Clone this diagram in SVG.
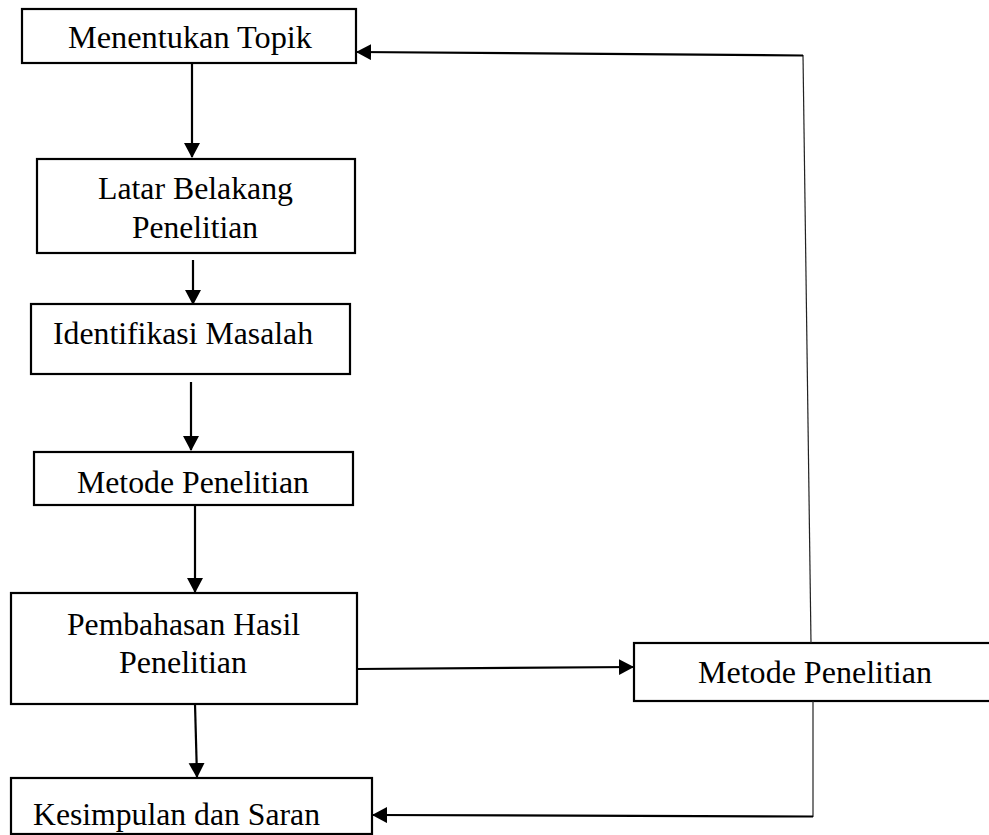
<svg xmlns="http://www.w3.org/2000/svg" width="989" height="835" viewBox="0 0 989 835">
<style>
.box{fill:#fff;stroke:#000;stroke-width:2.2}
text{font-family:'Liberation Serif','DejaVu Serif',serif;font-size:31px;fill:#000}
.conn{fill:none;stroke:#000;stroke-width:2.2}
.thin{fill:none;stroke:#222;stroke-width:1.2}
</style>
<defs>
<marker id="ah" markerUnits="userSpaceOnUse" markerWidth="15" markerHeight="17" refX="14" refY="8" orient="auto">
<path d="M0,0 L15,8 L0,16 Z" fill="#000"/>
</marker>
</defs>
<rect width="989" height="835" fill="#fff"/>
<g id="n1"><rect class="box" x="22" y="9" width="334" height="54"/><text x="68" y="48" font-family="Liberation Serif, serif" textLength="244" lengthAdjust="spacingAndGlyphs">Menentukan Topik</text></g>
<g id="n2"><rect class="box" x="37" y="159" width="318" height="94"/><text x="98" y="199" font-family="Liberation Serif, serif" textLength="195" lengthAdjust="spacingAndGlyphs">Latar Belakang</text><text x="132" y="238" font-family="Liberation Serif, serif" textLength="126" lengthAdjust="spacingAndGlyphs">Penelitian</text></g>
<g id="n3"><rect class="box" x="31" y="304" width="319" height="70"/><text x="53" y="344" font-family="Liberation Serif, serif" textLength="260" lengthAdjust="spacingAndGlyphs">Identifikasi Masalah</text></g>
<g id="n4"><rect class="box" x="34" y="452" width="319" height="53"/><text x="77" y="493" font-family="Liberation Serif, serif" textLength="232" lengthAdjust="spacingAndGlyphs">Metode Penelitian</text></g>
<g id="n5"><rect class="box" x="11" y="593" width="346" height="111"/><text x="67" y="635" font-family="Liberation Serif, serif" textLength="233" lengthAdjust="spacingAndGlyphs">Pembahasan Hasil</text><text x="119" y="673" font-family="Liberation Serif, serif" textLength="128" lengthAdjust="spacingAndGlyphs">Penelitian</text></g>
<g id="n6"><rect class="box" x="11" y="778" width="361" height="56"/><text x="33" y="825" font-family="Liberation Serif, serif" textLength="287" lengthAdjust="spacingAndGlyphs">Kesimpulan dan Saran</text></g>
<g id="n7"><rect class="box" x="634" y="643" width="360" height="58"/><text x="698" y="683" font-family="Liberation Serif, serif" textLength="234" lengthAdjust="spacingAndGlyphs">Metode Penelitian</text></g>
<g id="connectors">
<path class="conn" d="M192,63 L192,157" marker-end="url(#ah)"/>
<path class="conn" d="M193,260 L193,304" marker-end="url(#ah)"/>
<path class="conn" d="M191,382 L191,450" marker-end="url(#ah)"/>
<path class="conn" d="M195,505 L195,592" marker-end="url(#ah)"/>
<path class="conn" d="M195,704 L197,777" marker-end="url(#ah)"/>
<path class="conn" d="M357,669 L633,667" marker-end="url(#ah)"/>
<path class="thin" d="M811,643 L803,55"/>
<path class="conn" d="M803,55.5 L357,52" marker-end="url(#ah)"/>
<path class="thin" d="M813,701 L813,817"/>
<path class="conn" d="M813,816.5 L373,815" marker-end="url(#ah)"/>
</g>
</svg>
